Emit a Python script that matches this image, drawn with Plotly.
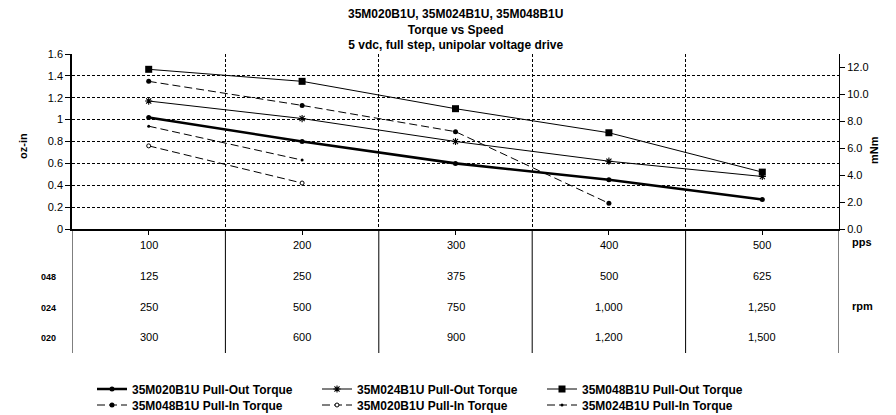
import plotly.graph_objects as go

pps = [100, 200, 300, 400, 500]
rpm_048 = ["125", "250", "375", "500", "625"]
rpm_024 = ["250", "500", "750", "1,000", "1,250"]
rpm_020 = ["300", "600", "900", "1,200", "1,500"]

po_020 = [1.02, 0.80, 0.60, 0.45, 0.27]
po_024 = [1.17, 1.01, 0.80, 0.62, 0.48]
po_048 = [1.46, 1.35, 1.10, 0.88, 0.52]
pi_048 = [1.35, 1.13, 0.89, 0.235]
pi_020 = [0.76, 0.42]
pi_024 = [0.94, 0.63]

FONT = "Liberation Sans, Arial, sans-serif"
DASH = "8px,4px"

# page offset (body margin) and target plot box in screen pixels
O = 8
W, H = 896 - O, 415 - O
L, R, T, B = 72, 839, 54, 229


def px(x):
    return (x - L) / (R - L)


def py(y):
    return (B - y) / (B - T)


fig = go.Figure()

fig.add_trace(go.Scatter(x=pps, y=po_020, name="<b>35M020B1U Pull-Out Torque</b>", mode="lines+markers",
                         line=dict(color="black", width=2.6), legend="legend",
                         marker=dict(symbol="circle", size=5, color="black")))
fig.add_trace(go.Scatter(x=pps, y=po_024, name="<b>35M024B1U Pull-Out Torque</b>", mode="lines+markers",
                         line=dict(color="black", width=1), legend="legend",
                         marker=dict(symbol="asterisk-open", size=6, color="black",
                                     line=dict(color="black", width=1.1))))
fig.add_trace(go.Scatter(x=pps, y=po_048, name="<b>35M048B1U Pull-Out Torque</b>", mode="lines+markers",
                         line=dict(color="black", width=1), legend="legend",
                         marker=dict(symbol="square", size=7, color="black")))
fig.add_trace(go.Scatter(x=pps[:len(pi_048)], y=pi_048, name="<b>35M048B1U Pull-In Torque</b>", mode="lines+markers",
                         line=dict(color="black", width=1, dash=DASH), legend="legend2",
                         marker=dict(symbol="circle", size=5, color="black")))
fig.add_trace(go.Scatter(x=pps[:len(pi_020)], y=pi_020, name="<b>35M020B1U Pull-In Torque</b>", mode="lines+markers",
                         line=dict(color="black", width=1, dash=DASH), legend="legend2",
                         marker=dict(symbol="circle", size=4, color="white",
                                     line=dict(color="black", width=1))))
fig.add_trace(go.Scatter(x=pps[:len(pi_024)], y=pi_024, name="<b>35M024B1U Pull-In Torque</b>", mode="lines+markers",
                         line=dict(color="black", width=1, dash=DASH), legend="legend2",
                         marker=dict(symbol="circle", size=3, color="black")))
# anchor the secondary (mNm) axis
fig.add_trace(go.Scatter(x=[], y=[], yaxis="y2", showlegend=False, hoverinfo="skip"))

# table text below the plot
rows = [([str(v) for v in pps], 252.5), (rpm_048, 284), (rpm_024, 315), (rpm_020, 345)]
for labels, yy in rows:
    for xv, lab in zip(pps, labels):
        fig.add_annotation(x=xv, y=py(yy), xref="x", yref="paper", text=lab, showarrow=False,
                           font=dict(family=FONT, size=11, color="black"))
for lab, yy in [("048", 284), ("024", 315), ("020", 345)]:
    fig.add_annotation(x=px(39), y=py(yy), xref="paper", yref="paper", text="<b>" + lab + "</b>",
                       showarrow=False, font=dict(family=FONT, size=9, color="black"))
for lab, yy in [("pps", 250), ("rpm", 314)]:
    fig.add_annotation(x=px(850), y=py(yy), xref="paper", yref="paper", text="<b>" + lab + "</b>",
                       xanchor="left", showarrow=False, font=dict(family=FONT, size=11, color="black"))

# table column separators
for xb in [50, 150, 250, 350, 450, 550]:
    fig.add_shape(type="line", x0=xb, x1=xb, y0=0, y1=py(353), xref="x", yref="paper",
                  line=dict(color="black", width=1))

# axis titles
fig.add_annotation(x=px(15), y=py(146), xref="paper", yref="paper",
                   text="<b>oz-in</b>", textangle=-90, showarrow=False,
                   font=dict(family=FONT, size=11, color="black"))
fig.add_annotation(x=px(882), y=py(150), xref="paper", yref="paper",
                   text="<b>mNm</b>", textangle=-90, showarrow=False,
                   font=dict(family=FONT, size=11, color="black"))

# title
fig.add_annotation(x=0.5, y=py(5), xref="paper", yref="paper", yanchor="top",
                   text="<b>35M020B1U, 35M024B1U, 35M048B1U<br>Torque vs Speed<br>5 vdc, full step, unipolar voltage drive</b>",
                   showarrow=False, font=dict(family=FONT, size=12, color="black"))

leg_common = dict(orientation="h", xanchor="left", yanchor="middle", yref="container",
                  entrywidth=180, entrywidthmode="pixels", itemwidth=30,
                  font=dict(family=FONT, size=12, color="black"), bgcolor="rgba(0,0,0,0)",
                  traceorder="normal", borderwidth=0)

fig.update_layout(
    width=W, height=H,
    margin=dict(l=L - O, r=W - (R - O), t=T - O, b=H - (B - O), autoexpand=False),
    paper_bgcolor="white", plot_bgcolor="white",
    font=dict(family=FONT, size=11, color="black"),
    xaxis=dict(range=[50, 550], tickvals=pps, showticklabels=False, ticks="outside", ticklen=4,
               tickcolor="black", showline=True, linecolor="black", linewidth=1.5,
               showgrid=False, zeroline=False,
               minor=dict(tickvals=[150, 250, 350, 450], showgrid=True, gridcolor="black",
                          gridwidth=1, griddash="3px,2px", ticks="")),
    yaxis=dict(range=[0, 1.6], dtick=0.2, tick0=0, ticks="outside", ticklen=5, tickcolor="black",
               showline=True, linecolor="black", linewidth=1.5, showgrid=True, gridcolor="black",
               gridwidth=1, griddash="3px,2px", zeroline=False,
               tickfont=dict(family=FONT, size=11, color="black")),
    yaxis2=dict(overlaying="y", side="right", range=[0, 13], tickvals=[0, 2, 4, 6, 8, 10, 12],
                tickformat=".1f", ticks="outside", ticklen=5, tickcolor="black",
                showline=True, linecolor="black", linewidth=1, showgrid=False, zeroline=False,
                tickfont=dict(family=FONT, size=11, color="black")),
    legend=dict(x=px(92), y=1 - (389 - O) / H, **leg_common),
    legend2=dict(x=px(92), y=1 - (405 - O) / H, **leg_common),
    showlegend=True,
)

fig.write_html("out.html")
